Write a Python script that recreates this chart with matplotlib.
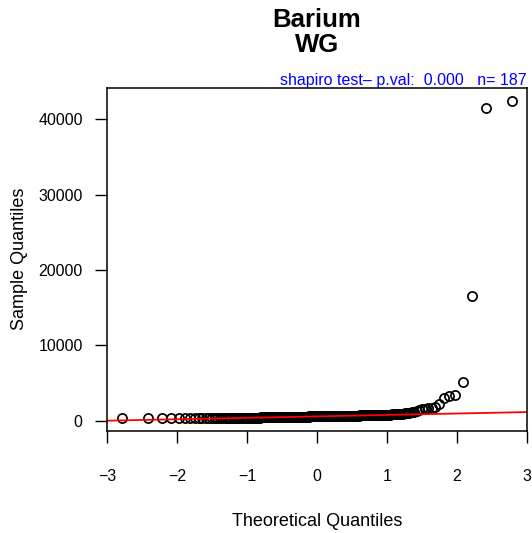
import numpy as np
import matplotlib
matplotlib.use("Agg")
import matplotlib.pyplot as plt
from statistics import NormalDist

title_main = "Barium"
title_sub = "WG"
xlabel = "Theoretical Quantiles"
ylabel = "Sample Quantiles"
x_ticks = [-3, -2, -1, 0, 1, 2, 3]
y_ticks = [0, 10000, 20000, 30000, 40000]

# sorted sample values (n = 187)
sample = [
    318, 321, 327, 329, 336, 337, 341, 344, 344, 349,
    351, 353, 356, 356, 361, 364, 366, 369, 371, 374,
    377, 378, 382, 384, 386, 390, 391, 394, 397, 399,
    402, 404, 405, 409, 412, 414, 416, 419, 421, 424,
    427, 428, 431, 434, 437, 439, 442, 444, 447, 451,
    453, 456, 458, 462, 465, 468, 470, 474, 477, 480,
    483, 486, 489, 491, 495, 498, 501, 503, 507, 510,
    513, 516, 519, 522, 524, 528, 531, 534, 537, 540,
    543, 546, 549, 552, 556, 558, 561, 564, 568, 570,
    573, 577, 579, 582, 585, 587, 590, 592, 595, 598,
    600, 603, 605, 608, 611, 613, 616, 618, 621, 624,
    626, 629, 631, 634, 637, 639, 642, 645, 647, 650,
    651, 653, 656, 658, 661, 663, 666, 668, 671, 673,
    676, 678, 681, 683, 686, 688, 691, 693, 696, 698,
    702, 706, 710, 714, 718, 723, 727, 732, 737, 742,
    748, 754, 760, 767, 774, 781, 789, 797, 806, 816,
    827, 839, 852, 866, 882, 900, 925, 960, 1010, 1060,
    1130, 1220, 1340, 1480, 1560, 1610, 1660, 1700, 1860, 2180,
    3000, 3300, 3400, 5200, 16590, 41460, 42470,
]

y = np.sort(np.array(sample, dtype=float))
n = len(y)
nd = NormalDist()
theo = np.array([nd.inv_cdf((i - 0.5) / n) for i in range(1, n + 1)])

# qqline through quartiles
q1, q3 = np.percentile(y, [25, 75])
t1, t3 = nd.inv_cdf(0.25), nd.inv_cdf(0.75)
slope = (q3 - q1) / (t3 - t1)
intercept = q1 - slope * t1

plt.rcParams['font.family'] = ['Liberation Sans', 'DejaVu Sans']

W, H = 532, 533
fig = plt.figure(figsize=(W / 100, H / 100), dpi=100)
ax = fig.add_axes([107 / W, 1 - 431 / H, (527 - 107) / W, (431 - 88) / H])

ax.plot(theo, y, linestyle='none', marker='o', markersize=6.6,
        markerfacecolor='none', markeredgecolor='black', markeredgewidth=1.25)
xx = np.array([-3.5, 3.5])
ax.plot(xx, intercept + slope * xx, color='#FF0000', lw=1.3)

ax.set_xlim(-3, 3)
rng = y.max() - y.min()
ax.set_ylim(y.min() - 0.04 * rng, y.max() + 0.04 * rng)
ax.set_xticks(x_ticks)
ax.set_yticks(y_ticks)
ax.set_xticklabels([str(v).replace('-', '\u2212') for v in x_ticks])
ax.set_yticklabels([str(v) for v in y_ticks])
ax.tick_params(axis='both', labelsize=11.5, length=8.5, width=1.0, direction='out')
ax.tick_params(axis='x', pad=19)
ax.tick_params(axis='y', pad=9)
for s in ax.spines.values():
    s.set_linewidth(1.1)

fig.text(317 / W, 1 - 522 / H, xlabel, ha='center', va='center', fontsize=13)
fig.text(20 / W, 1 - 259 / H, ylabel, ha='center', va='center', fontsize=13, rotation=90)
fig.text(317 / W, 1 - 20 / H, title_main, ha='center', va='center', fontsize=18.5, fontweight='bold')
fig.text(317 / W, 1 - 45 / H, title_sub, ha='center', va='center', fontsize=18.5, fontweight='bold')

pval = 0.000
fig.text(527 / W, 1 - 80 / H, f"shapiro test\u2013 p.val:  {pval:.3f}   n= {n}",
         ha='right', va='center', fontsize=11.5, color='#0000FF')

fig.savefig('out.png', dpi=100)
